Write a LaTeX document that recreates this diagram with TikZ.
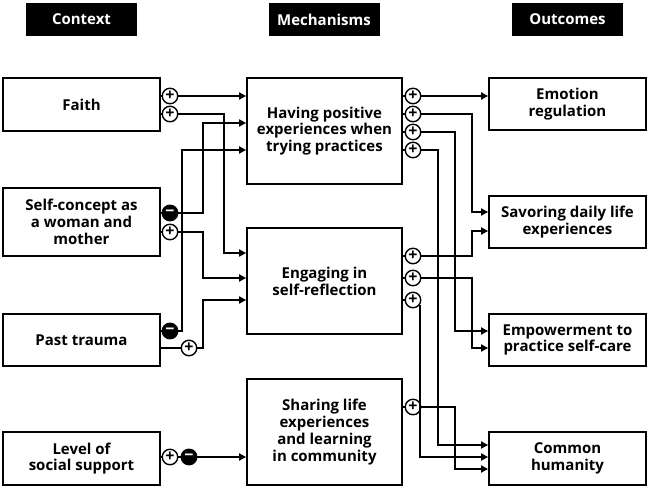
\documentclass[tikz,border=0pt]{standalone}
\usepackage{fontspec}
\setmainfont{Open Sans}[BoldFont={Open Sans Bold}]
\usetikzlibrary{arrows.meta}

\tikzset{
	box/.style={draw, line width=1.8pt, minimum width=157pt, align=center, inner sep=0pt, font=\bfseries\fontsize{15}{16.8}\selectfont},
	head/.style={fill=black, text=white, minimum width=111pt, minimum height=33pt, inner sep=0pt, font=\bfseries\fontsize{15}{15}\selectfont},
	plussign/.style={circle, draw, fill=white, line width=1.4pt, minimum size=15.5pt, inner sep=0pt, font=\bfseries\fontsize{16}{16}\selectfont},
	minussign/.style={circle, draw, fill=black, text=white, line width=1.4pt, minimum size=15.5pt, inner sep=0pt, font=\bfseries\fontsize{16}{16}\selectfont},
	link/.style={line width=1.8pt, -{Triangle[length=7pt,width=7pt]}}
}

\begin{document}
\begin{tikzpicture}[x=1pt,y=-1pt]

		\useasboundingbox (0,0) rectangle (650,487);

		\node[head] (context) at (81.5,19.5) {Context};
		\node[head] (mechanisms) at (324,19.5) {Mechanisms};
		\node[head] (outcomes) at (567.5,19.5) {Outcomes};

		\node[box, minimum height=53pt] (faith) at (81.5,104.5) {Faith};
		\node[box, minimum height=68pt] (self) at (81.5,222) {Self-concept as\\a woman and\\mother};
		\node[box, minimum height=52pt] (past) at (81.5,340) {Past trauma};
		\node[box, minimum height=53pt] (level) at (81.5,458.5) {Level of\\social support};

		\node[box, minimum width=155pt, minimum height=106pt] (positive) at (324.5,131) {Having positive\\experiences when\\trying practices};
		\node[box, minimum width=155pt, minimum height=106pt] (reflect) at (324.5,281) {Engaging in\\self-reflection};
		\node[box, minimum width=155pt, minimum height=106pt] (sharing) at (324.5,432) {Sharing life\\experiences\\and learning\\in community};

		\node[box, minimum height=52pt] (emotion) at (567.5,104) {Emotion\\regulation};
		\node[box, minimum height=52pt] (savor) at (567.5,222) {Savoring daily life\\experiences};
		\node[box, minimum height=52pt] (empower) at (567.5,340) {Empowerment to\\practice self-care};
		\node[box, minimum height=53pt] (common) at (567.5,458.5) {Common\\humanity};

		\node[plussign] (faithA) at (170,96) {+};
		\node[plussign] (faithB) at (170,114) {+};
		\node[minussign] (selfA) at (170,213) {−};
		\node[plussign] (selfB) at (170,232) {+};
		\node[minussign] (pastA) at (170,331) {−};
		\node[plussign] (pastB) at (189,348) {+};
		\node[plussign] (levelA) at (170,457) {+};
		\node[minussign] (levelB) at (189,457) {−};

		\node[plussign] (positiveA) at (413,96) {+};
		\node[plussign] (positiveB) at (413,114) {+};
		\node[plussign] (positiveC) at (413,132) {+};
		\node[plussign] (positiveD) at (413,150) {+};
		\node[plussign] (reflectA) at (413,256) {+};
		\node[plussign] (reflectB) at (413,278) {+};
		\node[plussign] (reflectC) at (413,300) {+};
		\node[plussign] (sharingA) at (413,407) {+};

		\draw[line width=1.8pt] (faith.east |- faithA) -- (faithA);
		\draw[line width=1.8pt] (faith.east |- faithB) -- (faithB);
		\draw[line width=1.8pt] (self.east |- selfA) -- (selfA);
		\draw[line width=1.8pt] (self.east |- selfB) -- (selfB);
		\draw[line width=1.8pt] (past.east |- pastA) -- (pastA);
		\draw[line width=1.8pt] (past.east |- pastB) -- (pastB);
		\draw[line width=1.8pt] (level.east |- levelA) -- (levelA) -- (levelB);
		\draw[line width=1.8pt] (positive.east |- positiveA) -- (positiveA);
		\draw[line width=1.8pt] (positive.east |- positiveB) -- (positiveB);
		\draw[line width=1.8pt] (positive.east |- positiveC) -- (positiveC);
		\draw[line width=1.8pt] (positive.east |- positiveD) -- (positiveD);
		\draw[line width=1.8pt] (reflect.east |- reflectA) -- (reflectA);
		\draw[line width=1.8pt] (reflect.east |- reflectB) -- (reflectB);
		\draw[line width=1.8pt] (reflect.east |- reflectC) -- (reflectC);
		\draw[line width=1.8pt] (sharing.east |- sharingA) -- (sharingA);

		\draw[link] (faithA) -- (faithA -| positive.west);
		\draw[link] (faithB) -| (224,253) -- (reflect.west |- 0,253);
		\draw[link] (selfA) -| (203,123) -- (positive.west |- 0,123);
		\draw[link] (selfB) -| (203,278) -- (reflect.west |- 0,278);
		\draw[link] (pastA) -| (182,150) -- (positive.west |- 0,150);
		\draw[link] (pastB) -| (203,300) -- (reflect.west |- 0,300);
		\draw[link] (levelB) -- (levelB -| sharing.west);

		\draw[link] (positiveA) -- (positiveA -| emotion.west);
		\draw[link] (positiveB) -| (472,212) -- (savor.west |- 0,212);
		\draw[link] (positiveC) -| (455,331) -- (empower.west |- 0,331);
		\draw[link] (positiveD) -| (438,445) -- (common.west |- 0,445);
		\draw[link] (reflectA) -| (472,231) -- (savor.west |- 0,231);
		\draw[link] (reflectB) -| (472,348) -- (empower.west |- 0,348);
		\draw[link] (reflectC.-35) |- (common.west |- 0,457);
		\draw[link] (sharingA) -| (455,469) -- (common.west |- 0,469);

	\end{tikzpicture}
\end{document}
